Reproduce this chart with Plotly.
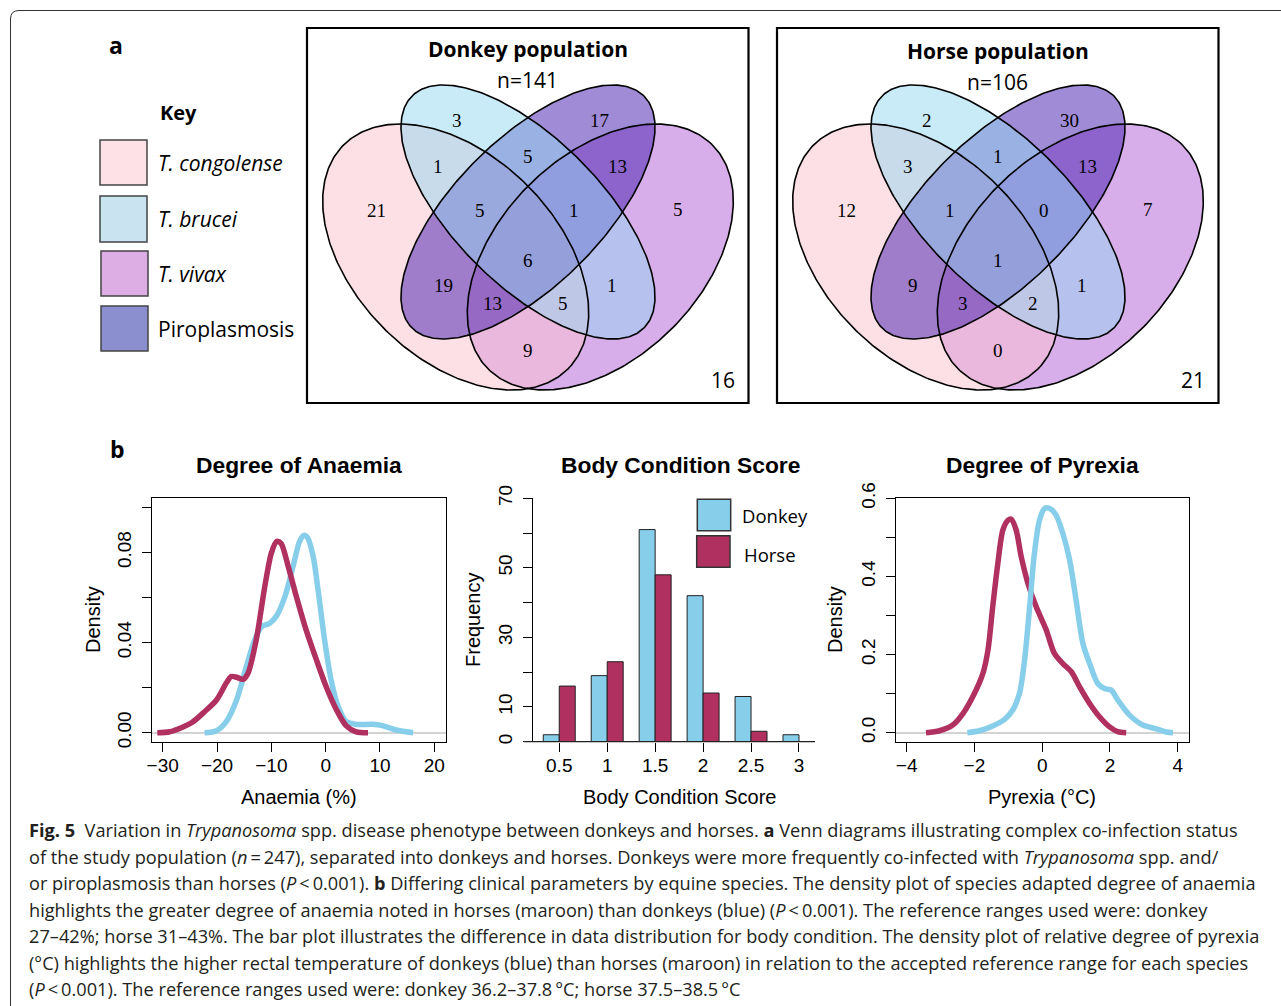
import numpy as np
import plotly.graph_objects as go

W, H = 1281, 1006

# ---------------- data ----------------
venn_regions = ["brucei", "piro", "congo_brucei", "brucei_piro", "piro_vivax",
                "congo", "congo_brucei_piro", "brucei_piro_vivax", "vivax", "all",
                "congo_piro", "brucei_vivax", "congo_piro_vivax", "congo_brucei_vivax",
                "congo_vivax", "none"]
donkey_counts = [3, 17, 1, 5, 13, 21, 5, 1, 5, 6, 19, 1, 13, 5, 9, 16]
horse_counts = [2, 30, 3, 1, 13, 12, 1, 0, 7, 1, 9, 1, 3, 2, 0, 21]
venn_titles = ["Donkey population", "Horse population"]
venn_n = [141, 106]
key_labels = ["<i>T. congolense</i>", "<i>T. brucei</i>", "<i>T. vivax</i>", "Piroplasmosis"]

anaemia_donkey_x = [-22.3, -20.1, -18.3, -16.4, -14.6, -13.1, -11.8, -10.3, -9.1, -7.5, -6.0, -4.8,
                    -4.0, -3.3, -2.3, -1.4, -0.2, 1.0, 2.3, 3.8, 5.6, 8.7, 10.6, 13.0, 16.1]
anaemia_donkey_y = [0.0, 0.0009, 0.0049, 0.0145, 0.0293, 0.041, 0.047, 0.0486, 0.0516, 0.0604,
                    0.0738, 0.0849, 0.0876, 0.0864, 0.0782, 0.0634, 0.0412, 0.0234, 0.0116,
                    0.0049, 0.0037, 0.0037, 0.003, 0.0012, 0.0]
anaemia_horse_x = [-31.0, -28.7, -24.7, -22.3, -20.1, -18.3, -17.4, -16.4, -15.2, -14.3, -12.8,
                   -11.2, -10.0, -9.0, -8.2, -6.9, -5.4, -3.6, -1.7, 0.1, 2.0, 3.8, 5.6, 7.8]
anaemia_horse_y = [0.0, 0.0004, 0.0044, 0.0093, 0.0145, 0.022, 0.0249, 0.0246, 0.0237, 0.0264,
                   0.041, 0.065, 0.0797, 0.0849, 0.0839, 0.0738, 0.0604, 0.0456, 0.0323,
                   0.0204, 0.0101, 0.003, 0.0004, 0.0]

bcs_scores = [0.5, 1, 1.5, 2, 2.5, 3]
bcs_labels = ["0.5", "1", "1.5", "2", "2.5", "3"]
bcs_donkey = [2, 19, 61, 42, 13, 2]
bcs_horse = [16, 23, 48, 14, 3, 0]

pyrexia_horse_x = [-3.43, -3.03, -2.64, -2.34, -2.05, -1.75, -1.60, -1.46, -1.31, -1.16, -1.01,
                   -0.92, -0.77, -0.62, -0.42, -0.18, 0.12, 0.36, 0.61, 0.86, 1.10, 1.40, 1.69,
                   1.99, 2.23, 2.48]
pyrexia_horse_y = [0.0, 0.005, 0.0196, 0.049, 0.092, 0.152, 0.212, 0.323, 0.433, 0.519, 0.544,
                   0.547, 0.519, 0.451, 0.382, 0.323, 0.263, 0.203, 0.177, 0.156, 0.118, 0.075,
                   0.041, 0.015, 0.0026, 0.0]
pyrexia_donkey_x = [-2.21, -1.85, -1.46, -1.11, -0.87, -0.67, -0.52, -0.37, -0.23, -0.08, 0.07,
                    0.22, 0.41, 0.61, 0.81, 1.00, 1.20, 1.40, 1.64, 1.84, 2.04, 2.23, 2.58, 2.97,
                    3.37, 3.66, 3.86]
pyrexia_donkey_y = [0.0, 0.005, 0.017, 0.034, 0.058, 0.101, 0.186, 0.323, 0.459, 0.544, 0.574,
                    0.574, 0.557, 0.510, 0.442, 0.340, 0.229, 0.177, 0.126, 0.113, 0.109, 0.084,
                    0.045, 0.0196, 0.010, 0.0017, 0.0]

caption_lines = [
    "<b>Fig. 5</b>  Variation in <i>Trypanosoma</i> spp. disease phenotype between donkeys and horses. <b>a</b> Venn diagrams illustrating complex co-infection status",
    "of the study population (<i>n</i>\u2009=\u2009247), separated into donkeys and horses. Donkeys were more frequently co-infected with <i>Trypanosoma</i> spp. and/",
    "or piroplasmosis than horses (<i>P</i>\u2009&lt;\u20090.001). <b>b</b> Differing clinical parameters by equine species. The density plot of species adapted degree of anaemia",
    "highlights the greater degree of anaemia noted in horses (maroon) than donkeys (blue) (<i>P</i>\u2009&lt;\u20090.001). The reference ranges used were: donkey",
    "27\u201342%; horse 31\u201343%. The bar plot illustrates the difference in data distribution for body condition. The density plot of relative degree of pyrexia",
    "(\u00b0C) highlights the higher rectal temperature of donkeys (blue) than horses (maroon) in relation to the accepted reference range for each species",
    "(<i>P</i>\u2009&lt;\u20090.001). The reference ranges used were: donkey 36.2\u201337.8\u2009\u00b0C; horse 37.5\u201338.5\u2009\u00b0C",
]

# ---------------- styling / layout constants ----------------
SKY = "#87CEEB"
MAROON = "#B03060"
SANS_R = "Liberation Sans, Arial, sans-serif"
SANS_V = "Open Sans, sans-serif"
SERIF = "Liberation Serif, Times New Roman, serif"
CAP = "Open Sans, sans-serif"

label_pos = [(456.7, 120), (599, 120), (437.5, 166.7), (527.7, 156.7), (617.7, 166.7),
             (376, 210), (480, 210), (574.3, 210), (678.3, 209), (527.7, 260.7),
             (443.3, 285), (612.3, 285), (492.7, 303.3), (563.3, 303.3), (527.7, 350),
             (723, 380)]
venn_dx = [0, 470]

# ellipse geometry (drawing order: vivax, congolense, piroplasmosis, brucei)
ell_specs = [
    (600.3, 257, 158.5, 101.3, -45, "rgba(177,93,213,0.5)"),
    (455.7, 257, 158.5, 101.3, 45, "rgba(251,193,205,0.5)"),
    (528.0, 212, 164.0, 73.3, -45, "rgba(65,25,173,0.5)"),
    (528.0, 212, 164.0, 73.3, 45, "rgba(148,213,240,0.5)"),
]


def ellipse(cx, cy, a, b, ang):
    t = np.linspace(0, 2 * np.pi, 361)
    r = np.deg2rad(ang)
    x = cx + a * np.cos(t) * np.cos(r) - b * np.sin(t) * np.sin(r)
    y = cy + a * np.cos(t) * np.sin(r) + b * np.sin(t) * np.cos(r)
    return x, y


fig = go.Figure()

# Venn fills then outlines (pixel axis)
for dx in venn_dx:
    for cx, cy, a, b, ang, col in ell_specs:
        ex, ey = ellipse(cx + dx, cy, a, b, ang)
        fig.add_trace(go.Scatter(x=ex, y=ey, mode="lines", fill="toself", fillcolor=col,
                                 line=dict(width=0, color=col), hoverinfo="skip",
                                 showlegend=False, xaxis="x", yaxis="y"))
    for cx, cy, a, b, ang, col in ell_specs:
        ex, ey = ellipse(cx + dx, cy, a, b, ang)
        fig.add_trace(go.Scatter(x=ex, y=ey, mode="lines", line=dict(width=1.6, color="black"),
                                 hoverinfo="skip", showlegend=False, xaxis="x", yaxis="y"))

# density / bar subplots
fig.add_trace(go.Scatter(x=anaemia_donkey_x, y=anaemia_donkey_y, mode="lines",
                         line=dict(color=SKY, width=5.5, shape="spline", smoothing=0.8),
                         showlegend=False, xaxis="x2", yaxis="y2", name="Donkey"))
fig.add_trace(go.Scatter(x=anaemia_horse_x, y=anaemia_horse_y, mode="lines",
                         line=dict(color=MAROON, width=5.5, shape="spline", smoothing=0.8),
                         showlegend=False, xaxis="x2", yaxis="y2", name="Horse"))

fig.add_trace(go.Bar(x=bcs_scores, y=bcs_donkey, marker=dict(color=SKY, line=dict(color="#222", width=1)),
                     showlegend=False, xaxis="x3", yaxis="y3", name="Donkey"))
fig.add_trace(go.Bar(x=bcs_scores, y=bcs_horse, marker=dict(color=MAROON, line=dict(color="#222", width=1)),
                     showlegend=False, xaxis="x3", yaxis="y3", name="Horse"))

fig.add_trace(go.Scatter(x=pyrexia_horse_x, y=pyrexia_horse_y, mode="lines",
                         line=dict(color=MAROON, width=5.5, shape="spline", smoothing=0.8),
                         showlegend=False, xaxis="x4", yaxis="y4", name="Horse"))
fig.add_trace(go.Scatter(x=pyrexia_donkey_x, y=pyrexia_donkey_y, mode="lines",
                         line=dict(color=SKY, width=5.5, shape="spline", smoothing=0.8),
                         showlegend=False, xaxis="x4", yaxis="y4", name="Donkey"))


def xd(p0, p1):
    return [p0 / W, p1 / W]


def yd(ptop, pbot):
    return [1 - pbot / H, 1 - ptop / H]


tickfont = dict(family=SANS_R, size=19, color="black")
common_x = dict(showgrid=False, zeroline=False, showline=True, linecolor="black", linewidth=1,
                ticks="outside", ticklen=9, tickcolor="black", tickwidth=1, tickfont=tickfont,
                fixedrange=True, automargin=False, ticklabelstandoff=-3)
common_y = dict(showgrid=False, showline=True, linecolor="black", linewidth=1,
                ticks="outside", ticklen=9, tickcolor="black", tickwidth=1, tickfont=tickfont,
                tickangle=-90, fixedrange=True, automargin=False, ticklabelstandoff=3)

shapes = []
ann = []


def T(x, y, s, size, family, xanchor="center", yanchor="middle", angle=0, color="black"):
    ann.append(dict(x=x, y=y, xref="x", yref="y", text=s, showarrow=False,
                    font=dict(size=size, family=family, color=color),
                    xanchor=xanchor, yanchor=yanchor, textangle=angle))


# outer frame
shapes.append(dict(type="path", xref="x", yref="y",
                   path="M 10.5,1006 L 10.5,19 Q 10.5,10.5 19,10.5 L 1281,10.5",
                   line=dict(color="#333", width=1)))

# Venn boxes, titles, counts
for i, dx in enumerate(venn_dx):
    shapes.append(dict(type="rect", xref="x", yref="y", x0=307 + dx, y0=28, x1=748.5 + dx, y1=403,
                       line=dict(color="black", width=2.2)))
    T(527.7 + dx, 49 + 2 * i, "<b>" + venn_titles[i] + "</b>", 21, SANS_V)
    T(527.7 + dx, 80 + 2 * i, "n=%d" % venn_n[i], 21, SANS_V)
    counts = donkey_counts if i == 0 else horse_counts
    for (lx, ly), c, reg in zip(label_pos, counts, venn_regions):
        if reg == "none":
            T(lx + dx, ly, str(c), 21, SANS_V)
        else:
            T(lx + dx, ly, str(c), 19, SERIF)

# key
T(116, 45, "<b>a</b>", 23, SANS_V)
T(178, 112, "<b>Key</b>", 20, SANS_V)
key_boxes = [(100, 140, 147, 185), (100, 196, 147, 242), (101, 251, 148, 296), (101, 306, 148, 351)]
key_cols = ["#FDE1E6", "#C9E4F0", "#DCAEE4", "#8B8FCF"]
for (x0, y0, x1, y1), col, lab in zip(key_boxes, key_cols, key_labels):
    shapes.append(dict(type="rect", xref="x", yref="y", x0=x0, y0=y0, x1=x1, y1=y1,
                       fillcolor=col, line=dict(color="#444", width=1.5)))
    T(156, (y0 + y1) / 2, lab, 21, SANS_V, xanchor="left")

# panel b
T(117, 449, "<b>b</b>", 23, SANS_V)
T(299, 465, "<b>Degree of Anaemia</b>", 22.8, SANS_R)
T(680, 465, "<b>Body Condition Score</b>", 22.8, SANS_R)
T(1042, 465, "<b>Degree of Pyrexia</b>", 22.8, SANS_R)
T(93, 620, "Density", 20, SANS_R, angle=-90)
T(299, 797, "Anaemia (%)", 20, SANS_R)
T(473, 620, "Frequency", 20, SANS_R, angle=-90)
T(679, 797, "Body Condition Score", 20, SANS_R)
T(835, 620, "Density", 20, SANS_R, angle=-90)
T(1042, 797, "Pyrexia (\u00b0C)", 20, SANS_R)

# bar legend
shapes.append(dict(type="rect", xref="x", yref="y", x0=697.3, y0=499.3, x1=730.7, y1=530.7,
                   fillcolor=SKY, line=dict(color="#333", width=1.5)))
shapes.append(dict(type="rect", xref="x", yref="y", x0=696.7, y0=535.7, x1=730, y1=567.3,
                   fillcolor=MAROON, line=dict(color="#333", width=1.5)))
T(740, 515, "Donkey", 18.5, SANS_V, xanchor="left")
T(742, 554, "Horse", 18.5, SANS_V, xanchor="left")

# bar baseline
shapes.append(dict(type="line", xref="x", yref="y", x0=524, y0=741.7, x1=815, y1=741.7,
                   line=dict(color="#222", width=1.2)))

# caption
cap_y = [830, 856.5, 883, 909.5, 936, 962.5, 989]
for s, y in zip(caption_lines, cap_y):
    T(27, y, s, 18.2, CAP, xanchor="left", color="#231F20")

fig.update_layout(
    width=W, height=H, autosize=False,
    margin=dict(l=0, r=0, t=0, b=0, pad=0, autoexpand=False),
    paper_bgcolor="white", plot_bgcolor="rgba(0,0,0,0)",
    showlegend=False, barmode="group", bargap=1 / 3, bargroupgap=0,
    xaxis=dict(range=[0, W], domain=[0, 1], visible=False, fixedrange=True),
    yaxis=dict(range=[H, 0], domain=[0, 1], visible=False, fixedrange=True),
    xaxis2=dict(common_x, domain=xd(151.7, 445.7), range=[-32.03, 22.1], mirror=True,
                tickvals=[-30, -20, -10, 0, 10, 20], anchor="y2"),
    yaxis2=dict(common_y, domain=yd(498.3, 741.7), range=[-0.004, 0.104], mirror=True,
                tickvals=[0, 0.02, 0.04, 0.06, 0.08, 0.10],
                ticktext=["0.00", "", "0.04", "", "0.08", ""],
                zeroline=True, zerolinecolor="#D3D3D3", zerolinewidth=2, anchor="x2"),
    xaxis3=dict(common_x, domain=xd(532.7, 815), range=[0.223, 3.167], showline=False,
                tickvals=bcs_scores, ticktext=bcs_labels, anchor="y3"),
    yaxis3=dict(common_y, domain=yd(498.3, 741.7), range=[0, 70], zeroline=False,
                tickvals=[0, 10, 20, 30, 40, 50, 60, 70],
                ticktext=["0", "10", "", "30", "", "50", "", "70"], anchor="x3"),
    xaxis4=dict(common_x, domain=xd(896, 1189), range=[-4.316, 4.334], mirror=True,
                tickvals=[-4, -2, 0, 2, 4], anchor="y4"),
    yaxis4=dict(common_y, domain=yd(498.3, 741.7), range=[-0.023, 0.6], mirror=True,
                tickvals=[0, 0.1, 0.2, 0.3, 0.4, 0.5, 0.6],
                ticktext=["0.0", "", "0.2", "", "0.4", "", "0.6"],
                zeroline=True, zerolinecolor="#D3D3D3", zerolinewidth=2, anchor="x4"),
    shapes=shapes, annotations=ann,
)

fig.write_html("out.html", config={"displayModeBar": False, "responsive": False},
               post_script="document.body.style.margin='0';document.body.style.overflow='hidden';")
